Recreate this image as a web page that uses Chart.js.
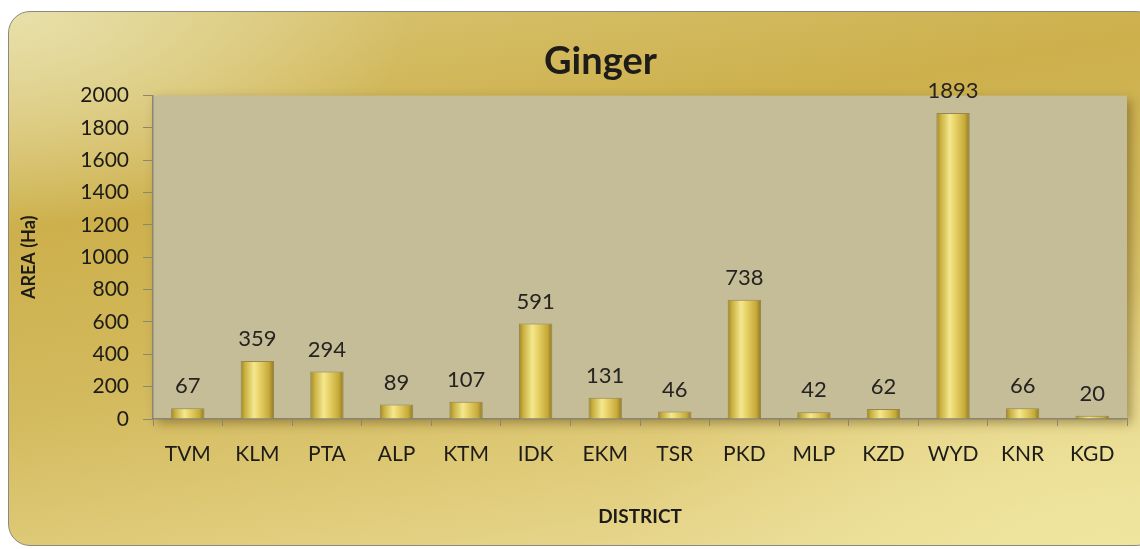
<!DOCTYPE html>
<html>
<head>
<meta charset="utf-8">
<script src="https://cdn.jsdelivr.net/npm/chart.js@4"></script>
<style>
  html, body { margin: 0; padding: 0; background: #ffffff; overflow: hidden; }
  #wrap { position: relative; width: 1140px; height: 549px; }
  #card {
    position: absolute; left: 8px; top: 11px; width: 1150px; height: 535px;
    border: 1.5px solid #8c8a80; border-radius: 22px; box-sizing: border-box;
    background:
      radial-gradient(ellipse 60% 70% at 95% 100%, rgba(240,230,160,0.9), rgba(240,230,160,0) 70%),
      radial-gradient(ellipse 35% 40% at 0% 0%, rgba(232,224,170,1), rgba(232,224,170,0) 100%),
      linear-gradient(170deg, #d9c676 0%, #cdb04c 30%, #d3ba5e 55%, #e2cf80 80%, #ecdf9c 100%);
  }
  canvas { position: absolute; left: 0; top: 0; }
</style>
</head>
<body>
<div id="wrap">
  <div id="card"></div>
  <canvas id="myChart" width="1140" height="549"></canvas>
</div>
<script>
const districts = ['TVM', 'KLM', 'PTA', 'ALP', 'KTM', 'IDK', 'EKM', 'TSR', 'PKD', 'MLP', 'KZD', 'WYD', 'KNR', 'KGD'];
const areaHa = [67, 359, 294, 89, 107, 591, 131, 46, 738, 42, 62, 1893, 66, 20];
const yTicks = [0, 200, 400, 600, 800, 1000, 1200, 1400, 1600, 1800, 2000];

const fontFamily = 'Lato, "Open Sans", sans-serif';
const barPct = 0.48;

// plot background with a soft shadow
const plotBg = {
  id: 'plotBg',
  afterLayout(chart) {
    // title sits a bit right of the canvas centre in the original
    if (chart.titleBlock) chart.titleBlock.left += 60;
  },
  beforeDraw(chart) {
    const { ctx, chartArea: a } = chart;
    ctx.save();
    ctx.shadowColor = 'rgba(80,60,10,0.45)';
    ctx.shadowBlur = 10;
    ctx.shadowOffsetX = 4;
    ctx.shadowOffsetY = 4;
    ctx.fillStyle = '#c4bd98';
    ctx.fillRect(a.left, a.top, a.right - a.left, a.bottom - a.top);
    ctx.restore();
  }
};

// value labels above bars
const valueLabels = {
  id: 'valueLabels',
  afterDatasetsDraw(chart) {
    const { ctx } = chart;
    const meta = chart.getDatasetMeta(0);
    ctx.save();
    ctx.font = '22px ' + fontFamily;
    ctx.fillStyle = '#262320';
    ctx.textAlign = 'center';
    ctx.textBaseline = 'bottom';
    meta.data.forEach((bar, i) => {
      ctx.fillText(areaHa[i], bar.x, bar.y - 11);
    });
    ctx.restore();
  }
};

const barFill = (context) => {
  const chart = context.chart;
  if (!chart.chartArea) return '#d8c45a';
  const x = chart.scales.x;
  const cx = x.getPixelForValue(context.dataIndex);
  const w = (x.width / districts.length) * barPct;
  const g = chart.ctx.createLinearGradient(cx - w / 2, 0, cx + w / 2, 0);
  g.addColorStop(0, '#9c8426');
  g.addColorStop(0.12, '#c8ae3e');
  g.addColorStop(0.4, '#f4e78e');
  g.addColorStop(0.55, '#e9d46a');
  g.addColorStop(0.85, '#c6aa3a');
  g.addColorStop(1, '#8e7720');
  return g;
};

const ctx = document.getElementById('myChart').getContext('2d');
const myChart = new Chart(ctx, {
  type: 'bar',
  data: {
    labels: districts,
    datasets: [{
      data: areaHa,
      backgroundColor: barFill,
      borderColor: 'rgba(120,100,30,0.6)',
      borderWidth: 1,
      barPercentage: barPct,
      categoryPercentage: 1
    }]
  },
  plugins: [plotBg, valueLabels],
  options: {
    responsive: false,
    animation: false,
    layout: { padding: { left: 14, right: 13, top: 10, bottom: 14 } },
    plugins: {
      legend: { display: false },
      tooltip: { enabled: false },
      title: {
        display: true,
        text: 'Ginger',
        color: '#1e1c18',
        font: { family: fontFamily, size: 38, weight: 'bold', lineHeight: 1.2 },
        padding: { top: 29, bottom: 11 }
      }
    },
    scales: {
      x: {
        afterFit: (s) => { s.height = 116; },
        grid: { display: true, drawOnChartArea: false, color: '#8a8672', tickLength: 7, offset: true },
        border: { display: true, color: '#8a8672', width: 1.5 },
        ticks: { color: '#1e1c18', font: { family: fontFamily, size: 21 }, padding: 16 },
        title: {
          display: true, text: 'DISTRICT', color: '#1e1c18',
          font: { family: fontFamily, size: 19, weight: 'bold' },
          padding: { top: 0, bottom: 7 }
        }
      },
      y: {
        min: 0, max: 2000,
        afterFit: (s) => { s.width = 139; },
        afterBuildTicks: (s) => { s.ticks = yTicks.map(v => ({ value: v })); },
        grid: { display: true, drawOnChartArea: false, color: '#8a8672', tickLength: 10 },
        border: { display: true, color: '#8a8672', width: 1.5 },
        ticks: {
          color: '#1e1c18', font: { family: fontFamily, size: 21 }, padding: 14,
          callback: (v) => String(v)
        },
        title: {
          display: true, text: 'AREA (Ha)', color: '#1e1c18',
          font: { family: fontFamily, size: 18, weight: 'bold' },
          padding: { top: 4, bottom: 0 }
        }
      }
    }
  }
});
</script>
</body>
</html>
